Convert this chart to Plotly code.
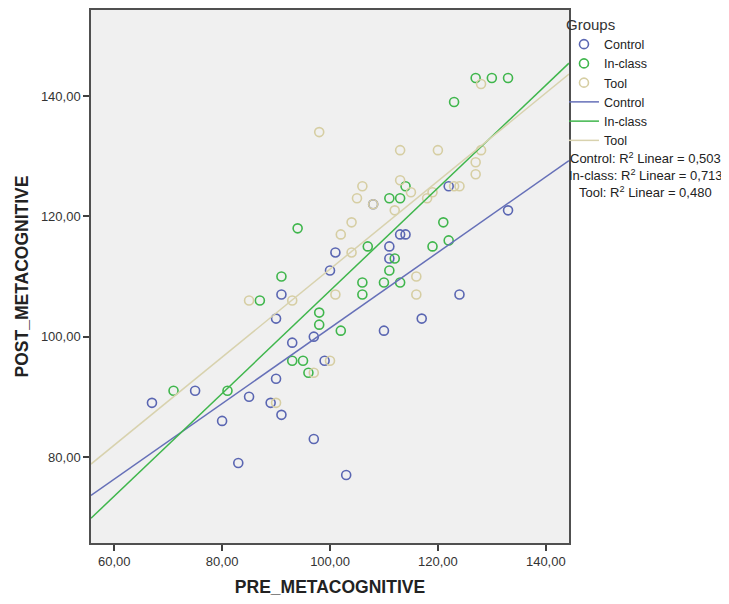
import numpy as np
import plotly.graph_objects as go

# ---- data ----
control_pre = [67, 75, 80, 83, 85, 89, 90, 91, 90, 91, 93, 97, 99, 97, 103, 100, 101, 108,
               111, 111, 113, 114, 110, 117, 124, 122, 133]
control_post = [89, 91, 86, 79, 90, 89, 93, 87, 103, 107, 99, 100, 96, 83, 77, 111, 114, 122,
                115, 113, 117, 117, 101, 103, 107, 125, 121]

inclass_pre = [71, 81, 87, 91, 94, 93, 95, 96, 98, 98, 102, 106, 106, 110, 113, 111, 107, 112,
               111, 113, 114, 119, 122, 121, 123, 127, 130, 133]
inclass_post = [91, 91, 106, 110, 118, 96, 96, 94, 104, 102, 101, 109, 107, 109, 109, 111, 115, 113,
                123, 123, 125, 115, 116, 119, 139, 143, 143, 143]

tool_pre = [85, 93, 90, 97, 100, 101, 104, 102, 104, 105, 106, 108, 98, 113, 113, 112, 115, 118,
            119, 116, 116, 120, 123, 124, 127, 127, 128, 128]
tool_post = [106, 106, 89, 94, 96, 107, 114, 117, 119, 123, 125, 122, 134, 131, 126, 121, 124, 123,
             124, 110, 107, 131, 125, 125, 127, 129, 131, 142]

groups = ["Control", "In-class", "Tool"]
r2_labels = ["0,503", "0,713", "0,480"]
x_tick_vals = [60, 80, 100, 120, 140]
x_tick_text = ["60,00", "80,00", "100,00", "120,00", "140,00"]
y_tick_vals = [80, 100, 120, 140]
y_tick_text = ["80,00", "100,00", "120,00", "140,00"]
x_range = [55.7, 144.3]
y_range = [65.7, 154.3]

marker_colors = ["#5A66B2", "#3FB64C", "#D6CEA3"]
line_colors = ["#6670B8", "#3FB64C", "#D8D2AE"]

FONT = "Arial, Liberation Sans, sans-serif"

fig = go.Figure()
data = [(control_pre, control_post), (inclass_pre, inclass_post), (tool_pre, tool_post)]

for name, (xs, ys), col in zip(groups, data, marker_colors):
    fig.add_trace(go.Scatter(
        x=xs, y=ys, mode="markers", name=name,
        marker=dict(symbol="circle-open", size=9, color=col, line=dict(width=1.6, color=col)),
    ))

xl = np.array(x_range)
for name, (xs, ys), col in zip(groups, data, line_colors):
    slope, intercept = np.polyfit(xs, ys, 1)
    fig.add_trace(go.Scatter(
        x=xl, y=intercept + slope * xl, mode="lines", name=name,
        line=dict(color=col, width=1.5),
    ))

for i, (name, r2) in enumerate(zip(groups, r2_labels)):
    fig.add_annotation(
        xref="paper", yref="paper", x=1.161, y=0.7215 - i * 0.0318,
        xanchor="center", yanchor="middle", showarrow=False,
        text=f"{name}: R<sup>2</sup> Linear = {r2}",
        font=dict(family=FONT, size=13, color="#222222"),
    )

axis_common = dict(
    showgrid=False, zeroline=False, showline=True, mirror=True,
    linecolor="#505050", linewidth=1.5, ticks="outside", ticklen=6,
    tickcolor="#404040", tickwidth=1.5,
    tickfont=dict(family=FONT, size=13, color="#333333"),
)

fig.update_layout(
    width=721, height=596,
    margin=dict(l=83, r=160, t=0, b=61),
    paper_bgcolor="white", plot_bgcolor="#F0F0F0",
    font=dict(family=FONT, size=12, color="#222222"),
    xaxis=dict(range=x_range, tickvals=x_tick_vals, ticktext=x_tick_text,
               title=dict(text="<b>PRE_METACOGNITIVE</b>", font=dict(family=FONT, size=17.5, color="#222222"),
                          standoff=12),
               **axis_common),
    yaxis=dict(range=y_range, tickvals=y_tick_vals, ticktext=y_tick_text,
               title=dict(text="<b>POST_METACOGNITIVE</b>", font=dict(family=FONT, size=17.5, color="#222222"),
                          standoff=8),
               **axis_common),
    legend=dict(
        title=dict(text="Groups", font=dict(family=FONT, size=15, color="#333333")),
        x=0.9895, y=1.0, xanchor="left", yanchor="top",
        font=dict(family=FONT, size=12.5, color="#222222"),
        tracegroupgap=0, itemwidth=30, bgcolor="rgba(0,0,0,0)",
    ),
    showlegend=True,
)

fig.write_html("out.html")
